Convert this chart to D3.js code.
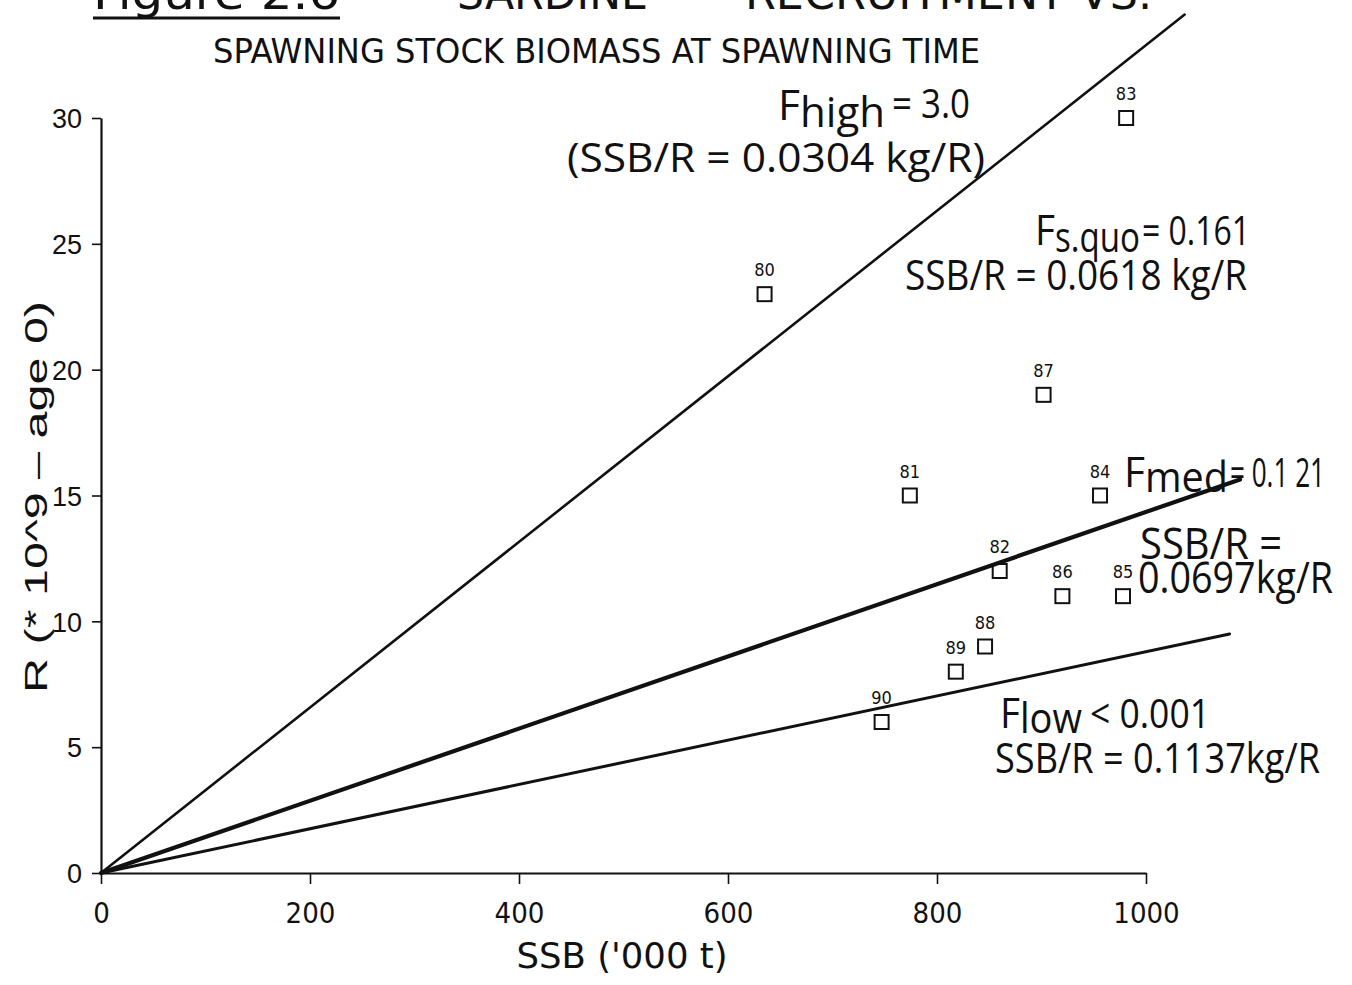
<!DOCTYPE html>
<html>
<head>
<meta charset="utf-8">
<script src="https://cdn.jsdelivr.net/npm/d3@7"></script>
<style>
  html, body { margin: 0; padding: 0; background: #fff; }
  svg { display: block; }
  text { fill: #111; }
</style>
</head>
<body>
<svg id="chart" width="1352" height="985"></svg>
<script>
// Recruitment (10^9, age 0) against spawning stock biomass ('000 t), by year class
const years = ["80", "81", "82", "83", "84", "85", "86", "87", "88", "89", "90"];
const ssb = [635, 774, 860, 981, 956, 978, 920, 902, 846, 818, 747];
const recruits = [23, 15, 12, 30, 15, 11, 11, 19, 9, 8, 6];

// Replacement lines: R = SSB / (SSB per recruit)
const refNames = ["F_high", "F_med", "F_low"];
const ssbPerRecruit = [0.0304, 0.0697, 0.1137]; // kg per recruit
const refEndSSB = [1037, 1090, 1080];           // '000 t where each line stops
const refWidths = [2.6, 4.2, 3];

const xTicks = [0, 200, 400, 600, 800, 1000];
const yTicks = [0, 5, 10, 15, 20, 25, 30];

const svg = d3.select("#chart");
const NARROW = "'DejaVu Sans Condensed', 'Liberation Sans Narrow', sans-serif";
const SANS = "'Liberation Sans', Arial, sans-serif";
const NOTE = "'Open Sans', 'DejaVu Sans', sans-serif";

const x = d3.scaleLinear().domain([0, 1000]).range([101, 1146]);
const y = d3.scaleLinear().domain([0, 30]).range([873, 118]);

// Headings
const head = svg.append("g").attr("font-family", NARROW);
[["Figure 2.6", 93, 247], ["SARDINE", 457, 191], ["RECRUITMENT VS.", 745, 407]].forEach(([t, px, len]) => {
  head.append("text").attr("x", px).attr("y", 9).attr("font-size", 44)
    .attr("textLength", len).attr("lengthAdjust", "spacingAndGlyphs").text(t);
});
head.append("line").attr("x1", 93).attr("x2", 340).attr("y1", 18).attr("y2", 18)
  .attr("stroke", "#111").attr("stroke-width", 3);
head.append("text").attr("x", 213).attr("y", 63).attr("font-size", 33)
  .attr("textLength", 767).attr("lengthAdjust", "spacingAndGlyphs")
  .text("SPAWNING STOCK BIOMASS AT SPAWNING TIME");

// Axes
const xAxis = svg.append("g").attr("transform", `translate(0,${y(0)})`)
  .call(d3.axisBottom(x).tickValues(xTicks).tickSize(11).tickSizeOuter(0).tickFormat(d3.format("d")));
const yAxis = svg.append("g").attr("transform", `translate(${x(0)},0)`)
  .call(d3.axisLeft(y).tickValues(yTicks).tickSize(9).tickSizeOuter(0).tickFormat(d3.format("d")));
[xAxis, yAxis].forEach(g => {
  g.select(".domain").attr("stroke", "#111").attr("stroke-width", 2.2);
  g.selectAll(".tick line").attr("stroke", "#111").attr("stroke-width", 1.6);
});
xAxis.selectAll(".tick text").attr("font-family", NARROW).attr("font-size", 29)
  .attr("fill", "#111").attr("y", 50).attr("dy", 0);
yAxis.selectAll(".tick text").attr("font-family", SANS).attr("font-size", 27)
  .attr("fill", "#111").attr("x", -19).attr("dy", "0.36em");

// Axis titles
svg.append("text").attr("x", 622).attr("y", 968).attr("text-anchor", "middle")
  .attr("font-family", NARROW).attr("font-size", 35)
  .attr("textLength", 211).attr("lengthAdjust", "spacingAndGlyphs")
  .text("SSB ('000 t)");
svg.append("text").attr("transform", "translate(47,497) rotate(-90)")
  .attr("text-anchor", "middle").attr("font-family", SANS).attr("font-size", 32)
  .attr("textLength", 392).attr("lengthAdjust", "spacingAndGlyphs")
  .text("R (* 10^9 \u2013 age 0)");

// Replacement lines through the origin
const line = d3.line().x(d => x(d[0])).y(d => y(d[1]));
refNames.forEach((name, i) => {
  const end = refEndSSB[i];
  const pts = [[0, 0], [end, end / (ssbPerRecruit[i] * 1000)]];
  svg.append("path").attr("class", name).datum(pts).attr("d", line)
    .attr("fill", "none").attr("stroke", "#111").attr("stroke-width", refWidths[i])
    .attr("stroke-linecap", "round");
});

// Year-class points
const pts = years.map((yr, i) => ({ yr, s: ssb[i], r: recruits[i] }));
const pg = svg.append("g");
pg.selectAll("rect").data(pts).join("rect")
  .attr("x", d => x(d.s) - 7).attr("y", d => y(d.r) - 7)
  .attr("width", 14).attr("height", 14)
  .attr("fill", "none").attr("stroke", "#111").attr("stroke-width", 2);
pg.selectAll("text").data(pts).join("text")
  .attr("x", d => x(d.s)).attr("y", d => y(d.r) - 18)
  .attr("text-anchor", "middle").attr("font-family", NARROW).attr("font-size", 18)
  .text(d => d.yr);

// Reference-point annotations: each line is one text made of positioned runs
// [text, x, baseline, font size, run width]
const notes = [
  [["F", 778, 120, 42, 22], ["high", 800, 127, 42, 85], ["= 3.0", 892, 118, 40, 78]],
  [["(SSB/R = 0.0304 kg/R)", 567, 172, 41, 418]],
  [["F", 1035, 245, 42, 20], ["s.quo", 1055, 252, 42, 85], ["= 0.161", 1142, 245, 40, 108]],
  [["SSB/R = 0.0618 kg/R", 905, 290, 42, 342]],
  [["F", 1124, 487, 42, 21], ["med", 1145, 492, 42, 83], ["= 0.1 21", 1230, 487, 40, 95]],
  [["SSB/R =", 1140, 559, 44, 142]],
  [["0.0697kg/R", 1138, 593, 44, 195]],
  [["F", 1000, 728, 42, 20], ["low", 1020, 733, 42, 62], ["< 0.001", 1090, 728, 40, 120]],
  [["SSB/R = 0.1137kg/R", 995, 773, 42, 325]]
];
const ng = svg.append("g").attr("font-family", NOTE);
notes.forEach(runs => {
  const t = ng.append("text");
  runs.forEach(([s, px, py, fs, len]) => {
    t.append("tspan").attr("x", px).attr("y", py).attr("font-size", fs)
      .attr("textLength", len).attr("lengthAdjust", "spacingAndGlyphs").text(s);
  });
});
</script>
</body>
</html>
